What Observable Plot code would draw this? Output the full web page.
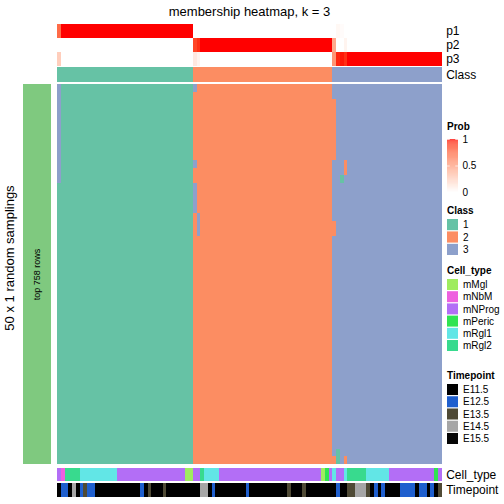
<!DOCTYPE html>
<html><head><meta charset="utf-8">
<script src="https://cdn.jsdelivr.net/npm/d3@7"></script>
<script src="https://cdn.jsdelivr.net/npm/@observablehq/plot@0.6"></script>
<style>
body{margin:0;background:#fff;font-family:"Liberation Sans",Arial,Helvetica,sans-serif;}
#chart{position:relative;width:504px;height:504px;overflow:hidden;background:#fff;}
.lbl{position:absolute;color:#000;white-space:nowrap;}
</style></head><body><div id="chart"></div>
<script>
// ---------------- data ----------------
const nSamplings = 50;
const classes = ["1", "2", "3"];
const classColors = ["#66c2a5", "#fc8d62", "#8da0cb"];
// consensus class of each column (run-length: [label, count])
const classRuns = [["1", 36], ["2", 37], ["3", 29]];
// membership probabilities per column (run-length: [value, count])
const p1Runs = [[0.74, 1], [1, 35], [0, 38], [0.04, 1], [0.02, 1], [0, 26]];
const p2Runs = [[0, 36], [0.88, 1], [0.94, 1], [1, 35], [0.45, 1], [0, 2], [0.06, 1], [0, 25]];
const p3Runs = [[0.26, 1], [0, 35], [0.12, 1], [0.06, 1], [0, 35], [0.55, 1], [0.96, 1], [0.98, 1], [0.94, 1], [1, 25]];
// sampling rows whose label differs from the column's class: [column, firstRow, lastRow, label]
const flips = [
  [0, 0, 12, "3"], [36, 0, 0, "3"], [36, 10, 10, "3"], [36, 13, 16, "3"], [37, 17, 19, "3"],
  [73, 2, 9, "2"], [73, 18, 19, "2"], [73, 49, 49, "2"], [74, 48, 49, "1"], [75, 12, 12, "1"],
  [76, 10, 11, "2"], [76, 49, 49, "2"]
];
const cellTypes = ["mMgl", "mNbM", "mNProg", "mPeric", "mRgl1", "mRgl2"];
const cellTypeColors = ["#9fec5f", "#ee60df", "#b36ef6", "#2fe452", "#62e6e6", "#38da8e"];
const cellTypeRuns = [["mNProg", 1], ["mNbM", 1], ["mRgl2", 4], ["mRgl1", 10], ["mNProg", 18], ["mMgl", 2],
  ["mNProg", 2], ["mRgl2", 1], ["mRgl1", 4], ["mNProg", 27], ["mMgl", 1], ["mPeric", 1], ["mNProg", 1],
  ["mRgl1", 1], ["mNProg", 2], ["mRgl1", 1], ["mRgl2", 5], ["mRgl1", 6], ["mNProg", 12], ["mPeric", 1], ["mNProg", 1]];
const timepoints = ["E11.5", "E12.5", "E13.5", "E14.5", "E15.5"];
const timepointColors = ["#000000", "#1f5fce", "#4f4a35", "#a6a6a6", "#050505"];
const timepointRuns = [["E11.5", 1], ["E12.5", 2], ["E11.5", 1], ["E14.5", 1], ["E11.5", 1], ["E12.5", 1], ["E13.5", 1], ["E12.5", 2],
  ["E11.5", 12], ["E12.5", 1], ["E11.5", 1], ["E13.5", 1], ["E11.5", 3], ["E13.5", 1], ["E11.5", 9], ["E14.5", 2],
  ["E11.5", 1], ["E12.5", 1], ["E11.5", 8], ["E12.5", 1], ["E11.5", 10], ["E13.5", 1], ["E11.5", 3], ["E13.5", 1],
  ["E11.5", 8], ["E12.5", 1], ["E11.5", 2], ["E13.5", 2], ["E14.5", 3], ["E13.5", 1], ["E11.5", 1], ["E12.5", 1],
  ["E11.5", 1], ["E12.5", 1], ["E11.5", 4], ["E12.5", 4], ["E11.5", 1], ["E12.5", 2], ["E11.5", 1], ["E12.5", 1],
  ["E11.5", 1], ["E13.5", 1]];
const probTicks = [0, 0.5, 1];
const titleText = "membership heatmap, k = 3";
const rowTitle = "50 x 1 random samplings";
const sliceLabel = "top 758 rows";

// ---------------- build ----------------
const expand = runs => runs.flatMap(([v, n]) => Array(n).fill(v));
const colClass = expand(classRuns);
const N = colClass.length;
const colIdx = d3.range(N);
const probs = {p1: expand(p1Runs), p2: expand(p2Runs), p3: expand(p3Runs)};
const cellType = expand(cellTypeRuns);
const timepoint = expand(timepointRuns);

const matrix = d3.range(nSamplings).map(() => colClass.slice());
for (const [c, r0, r1, lab] of flips) for (let r = r0; r <= r1; r++) matrix[r][c] = lab;
const cells = [];
matrix.forEach((row, r) => row.forEach((v, c) => cells.push({row: r, col: c, cls: v})));
const probCells = [];
for (const k of ["p1", "p2", "p3"]) probs[k].forEach((v, c) => probCells.push({row: k, col: c, v}));

const chart = document.getElementById("chart");
const font = '"Liberation Sans", Arial, Helvetica, sans-serif';
const style = {fontFamily: font, fontSize: "12px", background: "none", overflow: "visible", color: "black"};
function put(node, left, top) {
  node.style.position = "absolute";
  node.style.left = left + "px";
  node.style.top = top + "px";
  chart.append(node);
}
function label(text, left, top, css) {
  const d = document.createElement("div");
  d.className = "lbl";
  d.textContent = text;
  Object.assign(d.style, {left: left + "px", top: top + "px"}, css || {});
  chart.append(d);
  return d;
}
const L = 57, Rm = 504 - 441.7;
const xBand = {type: "band", domain: colIdx, padding: 0, round: false, axis: null};
const classColor = {type: "ordinal", domain: classes, range: classColors};
const rightAxis = {type: "band", padding: 0, round: false, axis: "right", tickSize: 0, tickPadding: 4, label: null};

// title
label(titleText, 0, 4, {width: "499px", textAlign: "center", fontSize: "13px", lineHeight: "16px"});

// probability rows
put(Plot.plot({
  width: 504, height: 42, marginLeft: L, marginRight: Rm, marginTop: 0, marginBottom: 0, style,
  x: xBand, y: {...rightAxis, domain: ["p1", "p2", "p3"]},
  color: {type: "linear", domain: [0, 1], range: ["white", "red"], interpolate: "lab"},
  marks: [Plot.cell(probCells, {x: "col", y: "row", fill: "v", shapeRendering: "crispEdges"})]
}), 0, 24);

// class row
put(Plot.plot({
  width: 504, height: 15, marginLeft: L, marginRight: Rm, marginTop: 0, marginBottom: 0, style,
  x: xBand, y: {...rightAxis, domain: ["Class"]}, color: classColor,
  marks: [Plot.cell(colIdx, {x: d => d, y: () => "Class", fill: d => colClass[d], shapeRendering: "crispEdges"})]
}), 0, 67);

// main membership heatmap
put(Plot.plot({
  width: 504, height: 380, marginLeft: L, marginRight: Rm, marginTop: 0, marginBottom: 0, style,
  x: xBand, y: {type: "band", domain: d3.range(nSamplings), padding: 0, round: false, axis: null}, color: classColor,
  marks: [Plot.cell(cells, {x: "col", y: "row", fill: "cls", shapeRendering: "crispEdges"})]
}), 0, 84);

// left slice annotation
put(Plot.plot({
  width: 57, height: 380, marginLeft: 23, marginRight: 6, marginTop: 0, marginBottom: 0, style,
  x: {type: "band", domain: [sliceLabel], padding: 0, round: false, axis: null},
  y: {type: "band", domain: [sliceLabel], padding: 0, round: false, axis: null},
  marks: [
    Plot.cell([sliceLabel], {x: d => d, y: d => d, fill: "#7fc97f"}),
    Plot.text([sliceLabel], {x: d => d, y: d => d, text: d => d, rotate: -90, fontSize: 9, fill: "black"})
  ]
}), 0, 84);
label(rowTitle, -90, 250, {width: "200px", textAlign: "center", fontSize: "13px", lineHeight: "16px", transform: "rotate(-90deg)"});

// bottom annotations
put(Plot.plot({
  width: 504, height: 13, marginLeft: L, marginRight: Rm, marginTop: 0, marginBottom: 0, style,
  x: xBand, y: {...rightAxis, domain: ["Cell_type"]},
  color: {type: "ordinal", domain: cellTypes, range: cellTypeColors},
  marks: [Plot.cell(colIdx, {x: d => d, y: () => "Cell_type", fill: d => cellType[d], shapeRendering: "crispEdges"})]
}), 0, 468);
put(Plot.plot({
  width: 504, height: 14, marginLeft: L, marginRight: Rm, marginTop: 0, marginBottom: 0, style,
  x: xBand, y: {...rightAxis, domain: ["Timepoint"]},
  color: {type: "ordinal", domain: timepoints, range: timepointColors},
  marks: [Plot.cell(colIdx, {x: d => d, y: () => "Timepoint", fill: d => timepoint[d], shapeRendering: "crispEdges"})]
}), 0, 483);

// ---------------- legends ----------------
const legendTitle = {fontSize: "10px", fontWeight: "bold", lineHeight: "12px"};
label("Prob", 447, 121, legendTitle);
const steps = d3.range(0, 1, 0.01);
put(Plot.plot({
  width: 57, height: 60, marginLeft: 0, marginRight: 46, marginTop: 3, marginBottom: 4,
  style: {...style, fontSize: "10px"},
  x: {type: "linear", domain: [0, 1], axis: null},
  y: {type: "linear", domain: [0, 1], axis: null},
  color: {type: "linear", domain: [0, 1], range: ["white", "red"], interpolate: "lab"},
  marks: [
    Plot.rect(steps, {x1: 0, x2: 1, y1: d => d, y2: d => d + 0.0101, fill: d => d + 0.005}),
    Plot.ruleY(probTicks.slice(1), {x1: 0, x2: 0.25, stroke: "white", strokeOpacity: 0.7}),
    Plot.ruleY(probTicks.slice(1), {x1: 0.75, x2: 1, stroke: "white", strokeOpacity: 0.7}),
    Plot.axisY({anchor: "right", ticks: probTicks, tickSize: 0, tickPadding: 4, tickFormat: d => String(d), label: null})
  ]
}), 447, 136);

function swatchLegend(title, domain, range, top) {
  label(title, 447, top - 14, legendTitle);
  put(Plot.plot({
    width: 57, height: 12 * domain.length, marginLeft: 0, marginRight: 46, marginTop: 0, marginBottom: 0,
    style: {...style, fontSize: "10px"},
    x: {type: "band", domain: ["swatch"], padding: 0, round: false, axis: null},
    y: {type: "band", domain, paddingInner: 0.1, paddingOuter: 0, round: false, axis: null},
    color: {type: "ordinal", domain, range},
    marks: [
      Plot.cell(domain, {x: () => "swatch", y: d => d, fill: d => d}),
      Plot.text(domain, {x: () => "swatch", y: d => d, text: d => d, dx: 10, textAnchor: "start", fill: "black"})
    ]
  }), 447, top);
}
swatchLegend("Class", classes, classColors, 219);
swatchLegend("Cell_type", cellTypes, cellTypeColors, 279);
swatchLegend("Timepoint", timepoints, timepointColors, 384);
</script></body></html>
